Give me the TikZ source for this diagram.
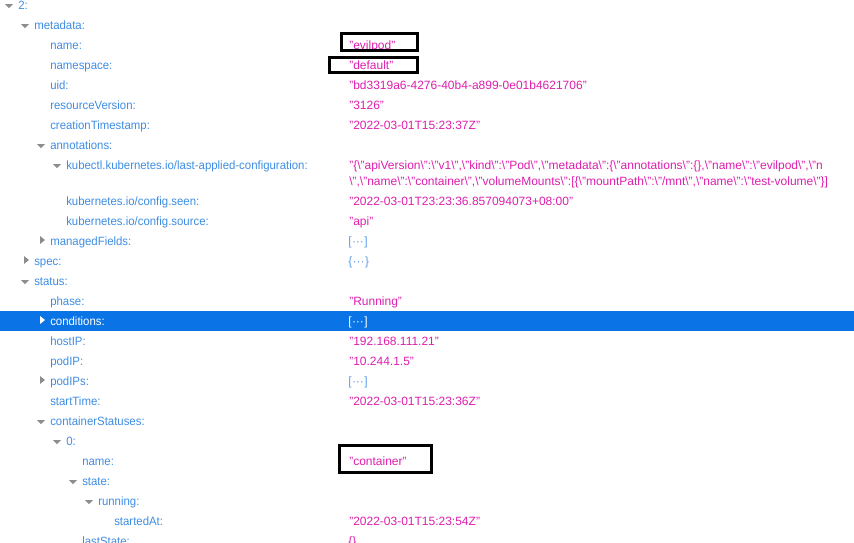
\documentclass[tikz,border=0pt]{standalone}
\usepackage{fontspec}
\setmainfont{Liberation Sans}
\newfontfamily\keyfont[FakeStretch=0.95]{Liberation Sans}
\definecolor{keyblue}{HTML}{3E8DE3}
\definecolor{valpink}{HTML}{DD1EAE}
\definecolor{ellblue}{HTML}{5C9FE8}
\definecolor{selbg}{HTML}{0A74E6}
\definecolor{twisty}{HTML}{8C8C8C}
\newcommand\jbq{\textbackslash"}
\newcommand\jdots{\kern.3pt\textperiodcentered\textperiodcentered\textperiodcentered\kern.3pt}
\newcommand\tdown[3][twisty]{\fill[#1] (#2-13,#3-5) -- (#2-5,#3-5) -- (#2-9,#3-1) -- cycle;}
\newcommand\tright[3][twisty]{\fill[#1] (#2-10,#3-9) -- (#2-5,#3-5) -- (#2-10,#3-1) -- cycle;}
\begin{document}
\begin{tikzpicture}[x=0.75pt,y=-0.75pt,
  key/.style={anchor=base west,inner sep=0,text=keyblue,font=\keyfont\fontsize{9}{11}\selectfont},
  val/.style={anchor=base west,inner sep=0,text=valpink,font=\fontsize{9}{11}\selectfont},
  ell/.style={anchor=base west,inner sep=0,text=ellblue,font=\fontsize{9}{11}\selectfont},
  hlbox/.style={draw=black,line width=2.25pt,inner sep=0}]
\useasboundingbox (0,0) rectangle (854,543);
\clip (0,0) rectangle (854,543);
\fill[selbg] (0,311) rectangle (854,331);
% keys
\node[key] (k0) at (18,9) {2:}; \tdown{18}{9}
\node[key] (k1) at (34,29) {metadata:}; \tdown{34}{29}
\node[key] (k2) at (50,49) {name:};
\node[key] (k3) at (50,69) {namespace:};
\node[key] (k4) at (50,89) {uid:};
\node[key] (k5) at (50,109) {resourceVersion:};
\node[key] (k6) at (50,129) {creationTimestamp:};
\node[key] (k7) at (50,149) {annotations:}; \tdown{50}{149}
\node[key] (k8) at (66,169) {kubectl.kubernetes.io/last-applied-configuration:}; \tdown{66}{169}
\node[key] (k9) at (66,205) {kubernetes.io/config.seen:};
\node[key] (k10) at (66,225) {kubernetes.io/config.source:};
\node[key] (k11) at (50,245) {managedFields:}; \tright{50}{245}
\node[key] (k12) at (34,265) {spec:}; \tright{34}{265}
\node[key] (k13) at (34,285) {status:}; \tdown{34}{285}
\node[key] (k14) at (50,305) {phase:};
\node[key,text=white] (k15) at (50,325) {conditions:}; \tright[white]{50}{325}
\node[key] (k16) at (50,345) {hostIP:};
\node[key] (k17) at (50,365) {podIP:};
\node[key] (k18) at (50,385) {podIPs:}; \tright{50}{385}
\node[key] (k19) at (50,405) {startTime:};
\node[key] (k20) at (50,425) {containerStatuses:}; \tdown{50}{425}
\node[key] (k21) at (66,445) {0:}; \tdown{66}{445}
\node[key] (k22) at (82,465) {name:};
\node[key] (k23) at (82,485) {state:}; \tdown{82}{485}
\node[key] (k24) at (98,505) {running:}; \tdown{98}{505}
\node[key] (k25) at (114,525) {startedAt:};
\node[key] (k26) at (82,545) {lastState:};
% values
\node[val] (v2) at (349,49) {"evilpod"};
\node[val] (v3) at (349,69) {"default"};
\node[val] (v4) at (349,89) {"bd3319a6-4276-40b4-a899-0e01b4621706"};
\node[val] (v5) at (349,109) {"3126"};
\node[val] (v6) at (349,129) {"2022-03-01T15:23:37Z"};
\node[val] (v8a) at (349,169) {"\{\jbq apiVersion\jbq:\jbq v1\jbq,\jbq kind\jbq:\jbq Pod\jbq,\jbq metadata\jbq:\{\jbq annotations\jbq:\{\},\jbq name\jbq:\jbq evilpod\jbq,\jbq n};
\node[val] (v8b) at (349,185) {\jbq,\jbq name\jbq:\jbq container\jbq,\jbq volumeMounts\jbq:[\{\jbq mountPath\jbq:\jbq/mnt\jbq,\jbq name\jbq:\jbq test-volume\jbq\}]};
\node[val] (v9) at (349,205) {"2022-03-01T23:23:36.857094073+08:00"};
\node[val] (v10) at (349,225) {"api"};
\node[ell] (v11) at (348,245) {[\jdots]};
\node[ell] (v12) at (348,265) {\{\jdots\}};
\node[val] (v14) at (349,305) {"Running"};
\node[ell,text=white] (v15) at (348,325) {[\jdots]};
\node[val] (v16) at (349,345) {"192.168.111.21"};
\node[val] (v17) at (349,365) {"10.244.1.5"};
\node[ell] (v18) at (348,385) {[\jdots]};
\node[val] (v19) at (349,405) {"2022-03-01T15:23:36Z"};
\node[val] (v22) at (349,465) {"container"};
\node[val] (v25) at (349,525) {"2022-03-01T15:23:54Z"};
\node[val] (v26) at (348,545) {\{\}};
% highlight boxes
\node[hlbox,minimum width=57pt,minimum height=12.75pt] (b1) at (379.5,42) {};
\node[hlbox,minimum width=66pt,minimum height=11.25pt] (b2) at (373.5,65) {};
\node[hlbox,minimum width=69pt,minimum height=20.25pt] (b3) at (385.5,459) {};
\end{tikzpicture}
\end{document}
